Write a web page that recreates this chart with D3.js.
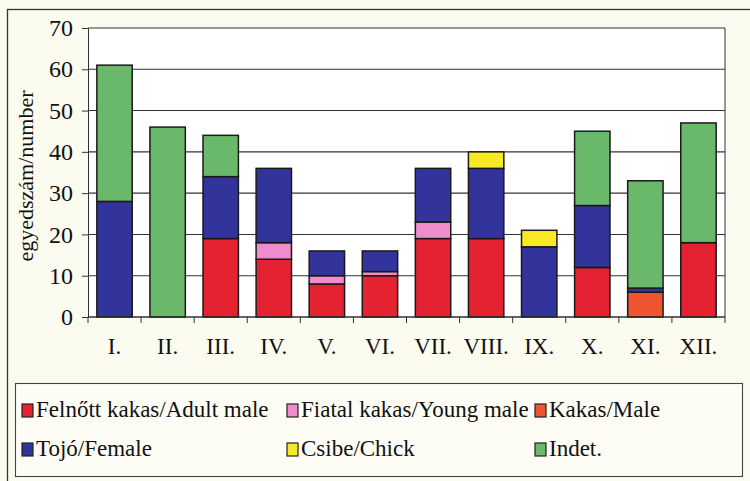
<!DOCTYPE html>
<html>
<head>
<meta charset="utf-8">
<script src="https://cdn.jsdelivr.net/npm/d3@7"></script>
<style>
    body { margin: 0; background: #fbfbef; }
    text { font-family: "Liberation Serif", "Times New Roman", serif; fill: #111; }
</style>
</head>
<body>
<div id="chart"></div>
<script>
// Monthly counts, stacked by group
const months = ["I.", "II.", "III.", "IV.", "V.", "VI.", "VII.", "VIII.", "IX.", "X.", "XI.", "XII."];
const adultMale = [0, 0, 19, 14, 8, 10, 19, 19, 0, 12, 0, 18];
const youngMale = [0, 0, 0, 4, 2, 1, 4, 0, 0, 0, 0, 0];
const male = [0, 0, 0, 0, 0, 0, 0, 0, 0, 0, 6, 0];
const female = [28, 0, 15, 18, 6, 5, 13, 17, 17, 15, 1, 0];
const chick = [0, 0, 0, 0, 0, 0, 0, 4, 4, 0, 0, 0];
const indet = [33, 46, 10, 0, 0, 0, 0, 0, 0, 18, 26, 29];

const seriesKeys = ["adult", "young", "male", "female", "chick", "indet"];
const seriesLabels = ["Felnőtt kakas/Adult male", "Fiatal kakas/Young male", "Kakas/Male",
                      "Tojó/Female", "Csibe/Chick", "Indet."];
const seriesColors = ["#e52232", "#f08ccb", "#ef5530", "#33339c", "#f7e925", "#6ab86a"];
const yTicks = [0, 10, 20, 30, 40, 50, 60, 70];

const width = 750, height = 481;
const margin = {top: 28, right: 25, bottom: 164, left: 88};

// Build table rows for the stack layout
const rows = months.map(function (m, i) {
    return {month: m, adult: adultMale[i], young: youngMale[i], male: male[i],
            female: female[i], chick: chick[i], indet: indet[i]};
});

const svg = d3.select("#chart")
              .append("svg")
              .attr("width", width)
              .attr("height", height);

// Outer frame of the figure
svg.append("rect")
   .attr("x", 7.5).attr("y", 9.5)
   .attr("width", width + 10).attr("height", height)
   .attr("fill", "#fbfbef")
   .attr("stroke", "#333")
   .attr("stroke-width", 1.3);

const plotW = width - margin.left - margin.right;
const plotH = height - margin.top - margin.bottom;

const xScale = d3.scaleBand()
                 .domain(months)
                 .range([0, plotW])
                 .paddingInner(1 / 3)
                 .paddingOuter(1 / 6);

const yScale = d3.scaleLinear()
                 .domain([0, 70])
                 .range([plotH, 0]);

const g = svg.append("g")
             .attr("transform", "translate(" + margin.left + "," + margin.top + ")");

// White plot area
g.append("rect")
 .attr("width", plotW).attr("height", plotH)
 .attr("fill", "#fff");

// Horizontal grid lines
g.append("g")
 .selectAll("line")
 .data(yTicks)
 .enter()
 .append("line")
 .attr("x1", 0).attr("x2", plotW)
 .attr("y1", d => yScale(d)).attr("y2", d => yScale(d))
 .attr("stroke", "#333")
 .attr("stroke-width", 1.1);

// Right border of the plot area
g.append("line")
 .attr("x1", plotW).attr("x2", plotW)
 .attr("y1", 0).attr("y2", plotH)
 .attr("stroke", "#333");

// Stacked bars
const stacked = d3.stack().keys(seriesKeys)(rows);
const colorScale = d3.scaleOrdinal().domain(seriesKeys).range(seriesColors);

g.append("g")
 .selectAll("g")
 .data(stacked)
 .enter()
 .append("g")
 .attr("fill", d => colorScale(d.key))
 .selectAll("rect")
 .data(d => d.filter(p => p[1] > p[0]))
 .enter()
 .append("rect")
 .attr("x", d => xScale(d.data.month))
 .attr("y", d => yScale(d[1]))
 .attr("width", xScale.bandwidth())
 .attr("height", d => yScale(d[0]) - yScale(d[1]))
 .attr("stroke", "#1a1a1a")
 .attr("stroke-width", 1.5);

// Y axis
const yAxis = g.append("g")
               .call(d3.axisLeft(yScale).tickValues(yTicks).tickSize(6).tickPadding(9));
yAxis.select(".domain").attr("stroke", "#333");
yAxis.selectAll("line").attr("stroke", "#333");
yAxis.selectAll("text")
     .style("font-size", "24px")
     .attr("fill", "#111");

// X axis: ticks at category boundaries, labels centred in bands
const xAxis = g.append("g")
               .attr("transform", "translate(0," + plotH + ")");
xAxis.append("line")
     .attr("x1", 0).attr("x2", plotW)
     .attr("stroke", "#333");
xAxis.selectAll(".xtick")
     .data(d3.range(months.length + 1))
     .enter()
     .append("line")
     .attr("class", "xtick")
     .attr("x1", i => i * plotW / months.length)
     .attr("x2", i => i * plotW / months.length)
     .attr("y1", 0).attr("y2", 6)
     .attr("stroke", "#333");
xAxis.selectAll(".xlabel")
     .data(months)
     .enter()
     .append("text")
     .attr("class", "xlabel")
     .attr("x", d => xScale(d) + xScale.bandwidth() / 2)
     .attr("y", 37)
     .attr("text-anchor", "middle")
     .style("font-size", "23px")
     .text(d => d);

// Y axis title
svg.append("text")
   .attr("transform", "translate(33," + (margin.top + 148) + ") rotate(-90)")
   .attr("text-anchor", "middle")
   .style("font-size", "22px")
   .text("egyedszám/number");

// Legend box
const legend = svg.append("g");
legend.append("rect")
      .attr("x", 15.5).attr("y", 383.5)
      .attr("width", 727).attr("height", 93)
      .attr("fill", "#fdfdf6")
      .attr("stroke", "#444")
      .attr("stroke-width", 1.1);

const legendCols = [22, 287, 535];
const legendRows = [417, 456];

const items = legend.selectAll(".item")
                    .data(seriesKeys)
                    .enter()
                    .append("g")
                    .attr("class", "item")
                    .attr("transform", function (d, i) {
                        return "translate(" + legendCols[i % 3] + "," + legendRows[Math.floor(i / 3)] + ")";
                    });
items.append("rect")
     .attr("x", 0).attr("y", -13)
     .attr("width", 11).attr("height", 13)
     .attr("fill", d => colorScale(d))
     .attr("stroke", "#222")
     .attr("stroke-width", 1.2);
items.append("text")
     .attr("x", 14).attr("y", 0)
     .style("font-size", "23px")
     .text((d, i) => seriesLabels[i]);
</script>
</body>
</html>
